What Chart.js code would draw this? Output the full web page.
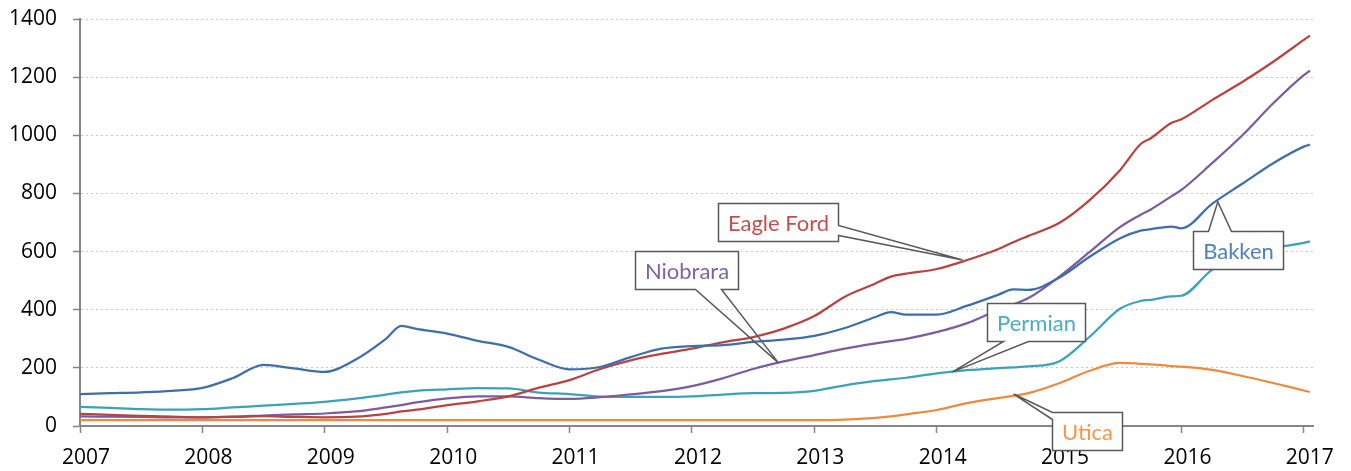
<!DOCTYPE html>
<html>
<head>
<meta charset="utf-8">
<script src="https://cdn.jsdelivr.net/npm/chart.js@4/dist/chart.umd.min.js"></script>
<style>
  html, body { margin: 0; padding: 0; background: #fff; }
  #wrap { width: 1351px; height: 471px; }
</style>
</head>
<body>
<div id="wrap"><canvas id="chart"></canvas></div>
<script>
// sample dates as decimal years
const dates = [2007, 2007.25, 2007.5, 2007.75, 2008, 2008.25, 2008.5, 2008.75,
  2009, 2009.25, 2009.5, 2009.625, 2009.75, 2010, 2010.25, 2010.5, 2010.75,
  2011, 2011.25, 2011.5, 2011.75, 2012, 2012.25, 2012.5, 2012.75,
  2013, 2013.25, 2013.5, 2013.625, 2013.75, 2014, 2014.25, 2014.5, 2014.625, 2014.75,
  2015, 2015.25, 2015.5, 2015.667, 2015.75, 2015.917, 2016, 2016.25, 2016.5, 2016.75,
  2017, 2017.05];

const bakken = [110, 113, 116, 121, 131, 165, 210, 198,
  186, 228, 300, 344, 334, 318, 293, 272, 228,
  195, 203, 237, 266, 275, 278, 289, 297,
  310, 337, 375, 392, 383, 383, 414, 451, 470, 468,
  510, 582, 646, 672, 677, 686, 680, 764, 834, 904,
  961, 968];

const eagleFord = [42, 38, 35, 32, 30, 31, 34, 31,
  30, 32, 42, 50, 56, 72, 85, 102, 132,
  158, 196, 226, 248, 266, 288, 306, 335,
  378, 445, 490, 514, 524, 540, 571, 608, 632, 654,
  698, 777, 881, 970, 990, 1042, 1055, 1121, 1184, 1253,
  1328, 1343];

const niobrara = [33, 32, 31, 30, 30, 32, 36, 40,
  43, 50, 64, 72, 81, 95, 102, 102, 96,
  93, 99, 109, 120, 137, 164, 196, 222,
  244, 266, 284, 292, 300, 323, 354, 399, 418, 440,
  513, 599, 685, 727, 745, 790, 812, 904, 1001, 1110,
  1207, 1222];

const permian = [66, 62, 58, 56, 58, 64, 70, 76,
  83, 94, 108, 116, 121, 126, 130, 129, 115,
  110, 101, 100, 100, 102, 108, 113, 114,
  121, 140, 155, 160, 166, 181, 192, 199, 202, 205,
  222, 307, 404, 430, 434, 446, 448, 537, 585, 612,
  630, 635];

const utica = [20, 20, 20, 20, 20, 20, 20, 20,
  20, 20, 20, 20, 20, 20, 20, 20, 20,
  20, 20, 20, 20, 20, 20, 20, 20,
  20, 22, 28, 33, 40, 55, 79, 96, 104, 113,
  147, 190, 217, 214, 212, 206, 204, 193, 172, 148,
  122, 117];

const yearTicks = [2007, 2008, 2009, 2010, 2011, 2012, 2013, 2014, 2015, 2016, 2017];

// callout boxes: box centre and anchor given in data units
const callouts = [
  { text: "Eagle Ford", color: "#C0504D", box: [2012.707, 702], anchor: [2014.212, 571], side: "right", base: [22, 32] },
  { text: "Niobrara", color: "#8064A2", box: [2011.959, 535], anchor: [2012.707, 217], side: "bottom", base: [60, 86] },
  { text: "Permian", color: "#4BACC6", box: [2014.809, 359], anchor: [2014.130, 186], side: "bottom", base: [16, 41] },
  { text: "Bakken", color: "#4F81BD", box: [2016.465, 605], anchor: [2016.297, 771], side: "top", base: [15, 38] },
  { text: "Utica", color: "#F79646", box: [2015.23, -17], anchor: [2014.629, 110], side: "left", base: [0, 7] }
];

const series = [
  { label: "Bakken", data: bakken, color: "#3F6EAD" },
  { label: "Eagle Ford", data: eagleFord, color: "#B84340" },
  { label: "Niobrara", data: niobrara, color: "#7B5C9F" },
  { label: "Permian", data: permian, color: "#3CA2BA" },
  { label: "Utica", data: utica, color: "#EE8A3E" }
];

const calloutPlugin = {
  id: "callouts",
  afterDatasetsDraw(chart) {
    const { ctx, scales: { x, y } } = chart;
    ctx.save();
    ctx.font = "22px Lato";
    callouts.forEach(c => {
      const w = Math.round(ctx.measureText(c.text).width + 19);
      const h = 38;
      const cx = x.getPixelForValue(c.box[0]);
      const cy = y.getPixelForValue(c.box[1]);
      const l = Math.round(cx - w / 2) + 0.5, t = Math.round(cy - h / 2) + 0.5;
      const r = l + w, b = t + h;
      const ax = x.getPixelForValue(c.anchor[0]);
      const ay = y.getPixelForValue(c.anchor[1]);
      const [p, q] = c.base;

      ctx.fillStyle = "#fff";
      ctx.fillRect(l, t, w, h);

      ctx.beginPath();
      ctx.moveTo(l, t);
      if (c.side === "top") { ctx.lineTo(l + p, t); ctx.lineTo(ax, ay); ctx.lineTo(l + q, t); }
      ctx.lineTo(r, t);
      if (c.side === "right") { ctx.lineTo(r, t + p); ctx.lineTo(ax, ay); ctx.lineTo(r, t + q); }
      ctx.lineTo(r, b);
      if (c.side === "bottom") { ctx.lineTo(l + q, b); ctx.lineTo(ax, ay); ctx.lineTo(l + p, b); }
      ctx.lineTo(l, b);
      if (c.side === "left") { ctx.lineTo(l, t + q); ctx.lineTo(ax, ay); ctx.lineTo(l, t + p); }
      ctx.closePath();
      ctx.lineWidth = 1.5;
      ctx.strokeStyle = "#595959";
      ctx.stroke();

      ctx.fillStyle = c.color;
      ctx.textAlign = "center";
      ctx.textBaseline = "middle";
      ctx.fillText(c.text, (l + r) / 2, (t + b) / 2 + 1);
    });
    ctx.restore();
  }
};

const ctx = document.getElementById("chart").getContext("2d");

new Chart(ctx, {
  type: "line",
  data: {
    datasets: series.map(s => ({
      label: s.label,
      data: dates.map((d, i) => ({ x: d, y: s.data[i] })),
      borderColor: s.color,
      backgroundColor: s.color,
      borderWidth: 2.25,
      pointRadius: 0,
      fill: false,
      cubicInterpolationMode: "monotone"
    }))
  },
  options: {
    responsive: true,
    maintainAspectRatio: false,
    animation: false,
    devicePixelRatio: 1,
    layout: { padding: { top: 19, right: 38, left: 0, bottom: 0 } },
    plugins: { legend: { display: false }, tooltip: { enabled: false } },
    scales: {
      x: {
        type: "linear",
        min: 2007,
        max: 2017.075,
        afterBuildTicks: scale => { scale.ticks = yearTicks.map(v => ({ value: v })); },
        afterFit: scale => { scale.height = 45; },
        ticks: {
          callback: v => String(v),
          font: { family: "Open Sans", size: 21 },
          color: "#000",
          padding: 12,
          labelOffset: 6,
          maxRotation: 0,
          autoSkip: false
        },
        grid: { drawOnChartArea: false, drawTicks: true, tickLength: 7, tickColor: "#868686", tickWidth: 1.5 },
        border: { color: "#868686", width: 2 }
      },
      y: {
        min: 0,
        max: 1400,
        afterFit: scale => {
          scale.width = 80;
          scale.paddingTop = 0;
          scale.paddingBottom = 0;
        },
        ticks: {
          stepSize: 200,
          callback: v => String(v),
          font: { family: "Open Sans", size: 21 },
          color: "#000",
          padding: 16
        },
        grid: { color: "#c8c8c8", lineWidth: 1, tickLength: 7, tickColor: "#868686", tickWidth: 1.5 },
        border: { color: "#868686", width: 2, dash: [2, 3] }
      }
    }
  },
  plugins: [calloutPlugin]
});
</script>
</body>
</html>
